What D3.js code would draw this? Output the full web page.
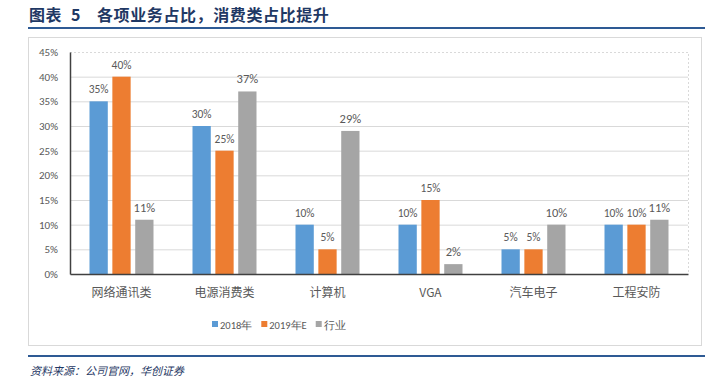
<!DOCTYPE html>
<html>
<head>
<meta charset="utf-8">
<script src="https://cdn.jsdelivr.net/npm/d3@7"></script>
<style>
  body { margin: 0; background: #fff; }
  svg { display: block; font-family: "Noto Sans CJK SC", "Microsoft YaHei", sans-serif; }
</style>
</head>
<body>
<div id="chart"></div>
<script>
const categories = ["网络通讯类", "电源消费类", "计算机", "VGA", "汽车电子", "工程安防"];
const seriesNames = ["2018年", "2019年E", "行业"];
const values2018 = [35, 30, 10, 10, 5, 10];
const values2019E = [40, 25, 5, 15, 5, 10];
const valuesIndustry = [11, 37, 29, 2, 10, 11];
const yTicks = [0, 5, 10, 15, 20, 25, 30, 35, 40, 45];
const colors = ["#5b9bd5", "#ed7d31", "#a5a5a5"];

const W = 712, H = 390;
const svg = d3.select("#chart").append("svg").attr("width", W).attr("height", H);
const numFont = "Carlito, Calibri, 'Liberation Sans', sans-serif";

// title + rules
const title = svg.append("text").attr("y", 21)
    .attr("fill", "#1f3864").attr("font-size", 16).attr("font-weight", "bold")
    .attr("letter-spacing", 0.6);
title.append("tspan").attr("x", 29).text("图表");
title.append("tspan").attr("x", 71).text("5");
title.append("tspan").attr("x", 97).text("各项业务占比，消费类占比提升");
svg.append("line").attr("x1", 28).attr("x2", 705).attr("y1", 28).attr("y2", 28)
    .attr("stroke", "#2e5a94").attr("stroke-width", 2);

// chart frame
svg.append("rect").attr("x", 28.5).attr("y", 37.5).attr("width", 673).attr("height", 308)
    .attr("fill", "none").attr("stroke", "#d9d9d9");

const plot = { left: 70, right: 688, top: 52, bottom: 274 };

const x = d3.scaleBand().domain(categories).range([plot.left, plot.right]);
const inner = d3.scaleBand().domain(seriesNames).range([0, 64]).paddingInner(0.2);
const y = d3.scaleLinear().domain([0, 45]).range([plot.bottom, plot.top]);

// grid
svg.append("g").selectAll("line").data(yTicks.slice(1, -1)).join("line")
    .attr("x1", plot.left).attr("x2", plot.right)
    .attr("y1", d => y(d) + 0.5).attr("y2", d => y(d) + 0.5)
    .attr("stroke", "#d9d9d9");
svg.append("path")
    .attr("d", `M${plot.left},${y(45) + 0.5}H${plot.right + 0.5}V${plot.bottom}`)
    .attr("fill", "none").attr("stroke", "#d9d9d9").attr("stroke-dasharray", "2,2");

// y axis
const yAxis = d3.axisLeft(y).tickValues(yTicks).tickFormat(d => d + "%").tickSize(0).tickPadding(12);
const gy = svg.append("g").attr("transform", `translate(${plot.left},0)`).call(yAxis);
gy.select(".domain").attr("stroke", "#404040").attr("stroke-width", 1.5);
gy.selectAll("text").attr("fill", "#595959").attr("font-size", 11)
    .attr("font-family", numFont);

// bars
const series = [values2018, values2019E, valuesIndustry];
series.forEach((vals, si) => {
    const g = svg.append("g");
    const data = categories.map((c, i) => ({ c, v: vals[i] }));
    const bx = d => x(d.c) + (x.bandwidth() - 64) / 2 + inner(seriesNames[si]);
    g.selectAll("rect").data(data).join("rect")
        .attr("x", bx).attr("width", inner.bandwidth())
        .attr("y", d => y(d.v)).attr("height", d => y(0) - y(d.v))
        .attr("fill", colors[si]);
    g.selectAll("text").data(data).join("text")
        .attr("x", d => bx(d) + inner.bandwidth() / 2)
        .attr("y", d => y(d.v) - 8)
        .attr("text-anchor", "middle")
        .attr("fill", "#595959")
        .attr("font-size", si === 2 ? 12.5 : 11.5)
        .attr("font-family", numFont)
        .text(d => d.v + "%");
});

// x axis
const xAxis = d3.axisBottom(x).tickSize(0).tickPadding(14);
const gx = svg.append("g").attr("transform", `translate(0,${plot.bottom})`).call(xAxis);
gx.select(".domain").attr("stroke", "#404040").attr("stroke-width", 1.5);
gx.selectAll("text").attr("fill", "#595959").attr("font-size", 12)
    .attr("font-family", "'Noto Sans CJK SC', sans-serif");

// legend
const legend = svg.append("g").attr("transform", "translate(0,325)");
let lx = 212;
seriesNames.forEach((name, i) => {
    legend.append("rect").attr("x", lx).attr("y", -4).attr("width", 6).attr("height", 6)
        .attr("fill", colors[i]);
    const t = legend.append("text").attr("x", lx + 8).attr("y", 4)
        .attr("fill", "#595959").attr("font-size", 10.5)
        .attr("font-family", numFont).text(name);
    lx += 8 + t.node().getComputedTextLength() + 9;
});

// bottom rule + source
svg.append("line").attr("x1", 28).attr("x2", 705).attr("y1", 356).attr("y2", 356)
    .attr("stroke", "#2e5a94").attr("stroke-width", 2);
svg.append("text").attr("x", 30).attr("y", 375)
    .attr("fill", "#1f3864").attr("font-size", 11).attr("font-style", "italic")
    .text("资料来源：公司官网，华创证券");
</script>
</body>
</html>
